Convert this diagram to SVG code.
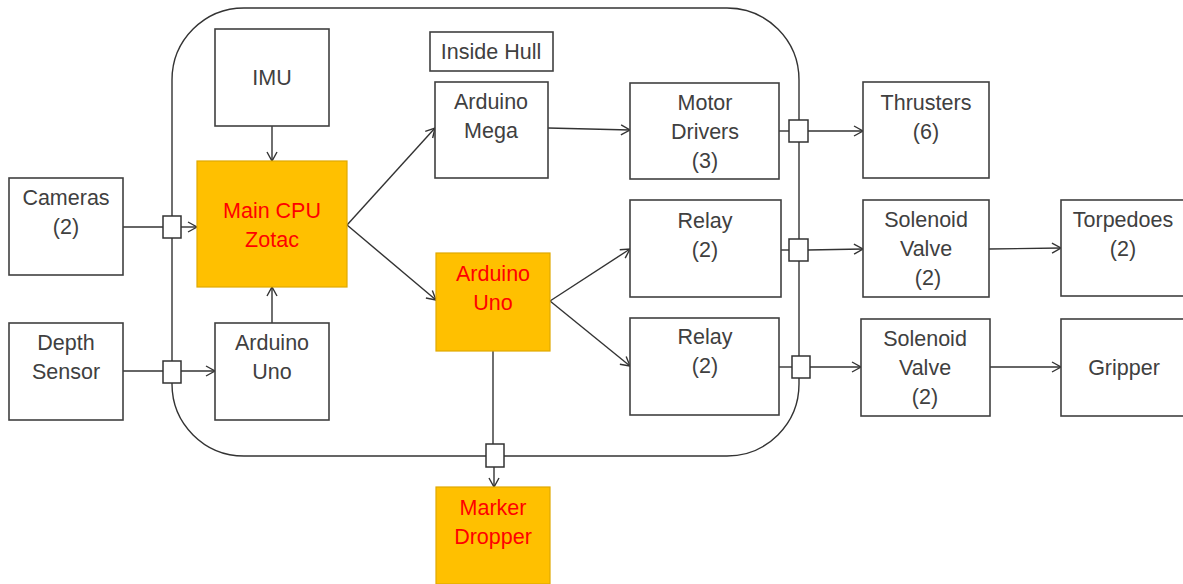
<svg xmlns="http://www.w3.org/2000/svg" width="1183" height="584" viewBox="0 0 1183 584">
<defs>
<marker id="arr" markerUnits="userSpaceOnUse" markerWidth="14" markerHeight="14" refX="10" refY="6" orient="auto">
<path d="M1,1 L10,6 L1,11" fill="none" stroke="#333" stroke-width="1.4"/>
</marker>
<style>
.box{fill:#fff;stroke:#404040;stroke-width:1.6}
.hot{fill:#FFC000;stroke:#E0A800;stroke-width:1.2}
.jn{fill:#fff;stroke:#333;stroke-width:1.5}
.t{font-family:"Liberation Sans",Arial,sans-serif;font-size:21.5px;fill:#404040;text-anchor:middle}
.r{fill:#FF0000}
.ln{fill:none;stroke:#333;stroke-width:1.4}
.hull{fill:none;stroke:#333;stroke-width:1.4}
</style>
</defs>
<rect width="1183" height="584" fill="#fff"/>
<rect class="hull" x="172" y="8" width="627" height="448" rx="72" ry="72"/>

<g id="connectors">
<line class="ln" x1="123" y1="227" x2="163" y2="227"/>
<line class="ln" x1="181" y1="227" x2="197" y2="227" marker-end="url(#arr)"/>
<line class="ln" x1="123" y1="371" x2="163" y2="371"/>
<line class="ln" x1="181" y1="371" x2="215" y2="371" marker-end="url(#arr)"/>
<line class="ln" x1="272" y1="126" x2="272" y2="161" marker-end="url(#arr)"/>
<line class="ln" x1="272" y1="323" x2="272" y2="287" marker-end="url(#arr)"/>
<line class="ln" x1="347" y1="225" x2="435" y2="128" marker-end="url(#arr)"/>
<line class="ln" x1="347" y1="225" x2="436" y2="300" marker-end="url(#arr)"/>
<line class="ln" x1="548" y1="128" x2="630" y2="130" marker-end="url(#arr)"/>
<line class="ln" x1="779" y1="131" x2="789" y2="131"/>
<line class="ln" x1="808" y1="131" x2="863" y2="131" marker-end="url(#arr)"/>
<line class="ln" x1="550" y1="301" x2="630" y2="249" marker-end="url(#arr)"/>
<line class="ln" x1="550" y1="301" x2="630" y2="366" marker-end="url(#arr)"/>
<line class="ln" x1="781" y1="250" x2="789" y2="250"/>
<line class="ln" x1="808" y1="250" x2="863" y2="249" marker-end="url(#arr)"/>
<line class="ln" x1="779" y1="367" x2="792" y2="367"/>
<line class="ln" x1="810" y1="367" x2="861" y2="367" marker-end="url(#arr)"/>
<line class="ln" x1="989" y1="249" x2="1061" y2="248" marker-end="url(#arr)"/>
<line class="ln" x1="990" y1="367" x2="1061" y2="367" marker-end="url(#arr)"/>
<line class="ln" x1="493" y1="351" x2="493" y2="444"/>
<line class="ln" x1="494" y1="467" x2="494" y2="487" marker-end="url(#arr)"/>
<rect class="jn" x="163" y="216" width="18" height="22"/>
<rect class="jn" x="163" y="361" width="18" height="22"/>
<rect class="jn" x="789" y="120" width="19" height="22"/>
<rect class="jn" x="789" y="239" width="19" height="22"/>
<rect class="jn" x="792" y="356" width="18" height="22"/>
<rect class="jn" x="486" y="444" width="18" height="23"/>
</g>

<g id="imu"><rect class="box" x="215" y="29" width="114" height="97"/><text class="t" x="272" y="85">IMU</text></g>
<g id="cameras"><rect class="box" x="9" y="178" width="114" height="97"/><text class="t" x="66" y="205">Cameras</text><text class="t" x="66" y="234">(2)</text></g>
<g id="main-cpu"><rect class="hot" x="197" y="161" width="150" height="126"/><text class="t r" x="272" y="218">Main CPU</text><text class="t r" x="272" y="247">Zotac</text></g>
<g id="depth"><rect class="box" x="9" y="323" width="114" height="97"/><text class="t" x="66" y="350">Depth</text><text class="t" x="66" y="379">Sensor</text></g>
<g id="arduino-uno-left"><rect class="box" x="215" y="323" width="114" height="97"/><text class="t" x="272" y="350">Arduino</text><text class="t" x="272" y="379">Uno</text></g>
<g id="inside-hull"><rect class="box" x="430" y="32" width="123" height="39"/><text class="t" x="491" y="59">Inside Hull</text></g>
<g id="arduino-mega"><rect class="box" x="435" y="82" width="113" height="96"/><text class="t" x="491" y="109">Arduino</text><text class="t" x="491" y="138">Mega</text></g>
<g id="motor-drivers"><rect class="box" x="630" y="83" width="149" height="96"/><text class="t" x="705" y="110">Motor</text><text class="t" x="705" y="139">Drivers</text><text class="t" x="705" y="168">(3)</text></g>
<g id="relay1"><rect class="box" x="630" y="200" width="151" height="97"/><text class="t" x="705" y="228">Relay</text><text class="t" x="705" y="257">(2)</text></g>
<g id="arduino-uno-mid"><rect class="hot" x="436" y="253" width="114" height="98"/><text class="t r" x="493" y="281">Arduino</text><text class="t r" x="493" y="310">Uno</text></g>
<g id="relay2"><rect class="box" x="630" y="318" width="149" height="97"/><text class="t" x="705" y="344">Relay</text><text class="t" x="705" y="373">(2)</text></g>
<g id="marker-dropper"><rect class="hot" x="436" y="487" width="114" height="97"/><text class="t r" x="493" y="515">Marker</text><text class="t r" x="493" y="544">Dropper</text></g>
<g id="thrusters"><rect class="box" x="863" y="82" width="126" height="96"/><text class="t" x="926" y="110">Thrusters</text><text class="t" x="926" y="139">(6)</text></g>
<g id="solenoid1"><rect class="box" x="863" y="200" width="126" height="97"/><text class="t" x="926" y="227">Solenoid</text><text class="t" x="926" y="256">Valve</text><text class="t" x="928" y="285">(2)</text></g>
<g id="torpedoes"><rect class="box" x="1061" y="200" width="126" height="96"/><text class="t" x="1123" y="227">Torpedoes</text><text class="t" x="1123" y="256">(2)</text></g>
<g id="solenoid2"><rect class="box" x="861" y="319" width="129" height="97"/><text class="t" x="925" y="346">Solenoid</text><text class="t" x="925" y="375">Valve</text><text class="t" x="925" y="404">(2)</text></g>
<g id="gripper"><rect class="box" x="1061" y="319" width="126" height="97"/><text class="t" x="1124" y="375">Gripper</text></g>
</svg>
